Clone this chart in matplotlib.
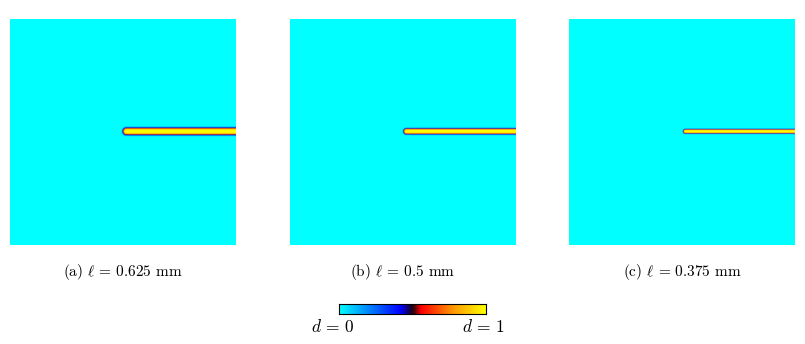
import numpy as np
import matplotlib
matplotlib.use("Agg")
import matplotlib.pyplot as plt
from matplotlib.colors import LinearSegmentedColormap

plt.rcParams['mathtext.fontset'] = 'cm'
plt.rcParams['font.family'] = 'serif'
plt.rcParams['font.serif'] = ['cmr10', 'DejaVu Serif']

# phase-field length scales (mm) and panel captions
ell_values = [0.625, 0.5, 0.375]
panel_tags = ["(a)", "(b)", "(c)"]

# square domain (mm) and the crack, from its tip to the right edge
domain_size = 100.0
crack_start = [51.5, 50.3]
crack_end = [100.0, 50.3]

cmap = LinearSegmentedColormap.from_list(
    "damage",
    [(0.0, "#00ffff"), (0.42, "#0000ff"), (0.5, "#1a0010"),
     (0.56, "#ff0000"), (0.78, "#ff9900"), (1.0, "#ffff00")])

n = 1000
xs = np.linspace(0, domain_size, n)
X, Y = np.meshgrid(xs, xs)

# distance of each grid point to the crack segment
px = np.clip(X, crack_start[0], crack_end[0])
py = crack_start[1] + 0 * X
dist = np.hypot(X - px, Y - py)

fig = plt.figure(figsize=(8.05, 3.44), dpi=100)

lefts = [10 / 805, 290 / 805, 569 / 805]
for left, ell, tag in zip(lefts, ell_values, panel_tags):
    ax = fig.add_axes([left, 99 / 344, 226 / 805, 226 / 344])
    # flat-topped damage band around the crack
    d = np.exp(-(dist / (2.6 * ell)) ** 4)
    ax.imshow(d, cmap=cmap, vmin=0, vmax=1, origin="lower",
              extent=[0, domain_size, 0, domain_size], interpolation="bilinear")
    ax.set_axis_off()
    fig.text(left + 113 / 805, 1 - 272 / 344,
             tag + r" $\ell\,=\," + str(ell) + r"$ mm",
             ha="center", va="center", fontsize=11)

# colorbar
cax = fig.add_axes([339 / 805, 30 / 344, 147 / 805, 10 / 344])
grad = np.linspace(0, 1, 256).reshape(1, -1)
cax.imshow(grad, cmap=cmap, aspect="auto", extent=[0, 1, 0, 1])
cax.set_xticks([])
cax.set_yticks([])
for s in cax.spines.values():
    s.set_linewidth(0.8)
fig.text(333 / 805, 1 - 326 / 344, r"$d\,=\,0$", ha="center", va="center", fontsize=12.5)
fig.text(483 / 805, 1 - 326 / 344, r"$d\,=\,1$", ha="center", va="center", fontsize=12.5)

fig.savefig("out.png", dpi=100)
